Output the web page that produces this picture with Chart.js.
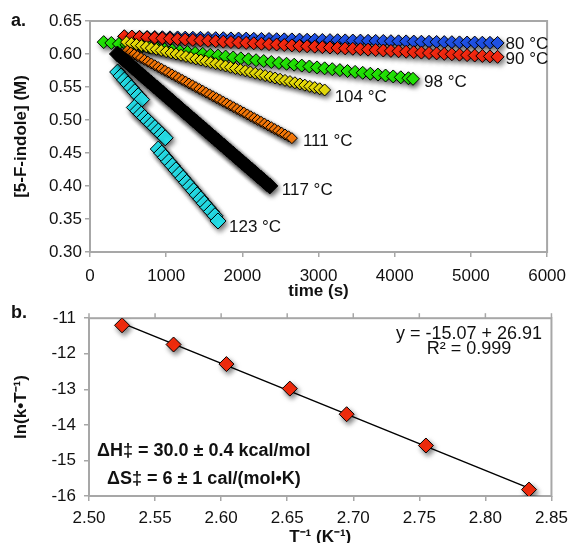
<!DOCTYPE html>
<html><head><meta charset="utf-8">
<script src="https://cdn.jsdelivr.net/npm/chart.js@4.4.1/dist/chart.umd.min.js"></script>
<style>
html,body{margin:0;padding:0;background:#fff;}
#wrap{position:relative;width:575px;height:543px;overflow:hidden;background:#fff;}
#ca{position:absolute;left:0;top:0;}
#cb{position:absolute;left:0;top:300px;}
</style></head><body>
<div id="wrap"><canvas id="ca" width="575" height="300"></canvas><canvas id="cb" width="575" height="243"></canvas></div>
<script>
// ---------- Panel a: [5-F-indole] vs time ----------
const seriesNames = ['80 °C','90 °C','98 °C','104 °C','111 °C','117 °C','123 °C'];

const t80 = [450,550,650,750,850,950,1050,1150,1250,1350,1450,1550,1650,1750,1850,1950,2050,2150,2250,2350,2450,2550,2650,2750,2850,2950,3050,3150,3250,3350,3450,3550,3650,3750,3850,3950,4050,4150,4250,4350,4450,4550,4650,4750,4850,4950,5050,5150,5250,5350];
const c80 = [0.6265,0.6262,0.6261,0.6258,0.6257,0.6254,0.6252,0.6251,0.6248,0.6246,0.6245,0.6242,0.6240,0.6239,0.6236,0.6234,0.6233,0.6230,0.6228,0.6227,0.6224,0.6222,0.6221,0.6218,0.6216,0.6215,0.6212,0.6210,0.6209,0.6206,0.6204,0.6203,0.6200,0.6198,0.6197,0.6194,0.6192,0.6191,0.6188,0.6186,0.6185,0.6182,0.6180,0.6179,0.6176,0.6174,0.6173,0.6171,0.6169,0.6168];

const t90 = [450,550,650,750,850,950,1050,1150,1250,1350,1450,1550,1650,1750,1850,1950,2050,2150,2250,2350,2450,2550,2650,2750,2850,2950,3050,3150,3250,3350,3450,3550,3650,3750,3850,3950,4050,4150,4250,4350,4450,4550,4650,4750,4850,4950,5050,5150,5250,5350];
const c90 = [0.6270,0.6264,0.6257,0.6251,0.6245,0.6238,0.6232,0.6225,0.6219,0.6213,0.6206,0.6200,0.6194,0.6187,0.6181,0.6174,0.6168,0.6162,0.6155,0.6149,0.6143,0.6136,0.6130,0.6123,0.6117,0.6111,0.6104,0.6098,0.6092,0.6085,0.6079,0.6072,0.6066,0.6060,0.6053,0.6047,0.6041,0.6034,0.6028,0.6021,0.6015,0.6009,0.6002,0.5996,0.5990,0.5983,0.5977,0.5970,0.5964,0.5957];

const t98 = [180,280,380,480,580,680,780,880,980,1080,1180,1280,1380,1480,1580,1680,1780,1880,1980,2080,2180,2280,2380,2480,2580,2680,2780,2880,2980,3080,3180,3280,3380,3480,3580,3680,3780,3880,3980,4080,4180,4240];
const c98 = [0.6180,0.6167,0.6152,0.6139,0.6125,0.6111,0.6098,0.6084,0.6070,0.6057,0.6043,0.6029,0.6016,0.6002,0.5988,0.5975,0.5961,0.5947,0.5934,0.5920,0.5906,0.5893,0.5879,0.5865,0.5852,0.5838,0.5824,0.5811,0.5797,0.5783,0.5770,0.5756,0.5742,0.5729,0.5715,0.5701,0.5688,0.5674,0.5660,0.5647,0.5633,0.5624];

const t104 = [480,545,610,675,740,805,870,935,1000,1065,1130,1195,1260,1325,1390,1455,1520,1585,1650,1715,1780,1845,1910,1975,2040,2105,2170,2235,2300,2365,2430,2495,2560,2625,2690,2755,2820,2885,2950,3015,3080];
const c104 = [0.6180,0.6162,0.6144,0.6126,0.6108,0.6089,0.6071,0.6053,0.6035,0.6017,0.5999,0.5981,0.5963,0.5944,0.5926,0.5908,0.5890,0.5872,0.5854,0.5836,0.5818,0.5799,0.5781,0.5763,0.5745,0.5727,0.5709,0.5691,0.5673,0.5654,0.5636,0.5618,0.5600,0.5582,0.5564,0.5546,0.5528,0.5509,0.5491,0.5473,0.5455];

const t111 = [490,535,580,625,670,715,760,805,850,895,940,985,1030,1075,1120,1165,1210,1255,1300,1345,1390,1435,1480,1525,1570,1615,1660,1705,1750,1795,1840,1885,1930,1975,2020,2065,2110,2155,2200,2245,2290,2335,2380,2425,2470,2515,2560,2605,2650];
const c111 = [0.6050,0.6022,0.5995,0.5967,0.5940,0.5912,0.5884,0.5857,0.5829,0.5802,0.5774,0.5746,0.5719,0.5691,0.5664,0.5636,0.5608,0.5581,0.5553,0.5526,0.5498,0.5470,0.5443,0.5415,0.5388,0.5360,0.5332,0.5305,0.5277,0.5250,0.5222,0.5194,0.5167,0.5139,0.5112,0.5084,0.5056,0.5029,0.5001,0.4974,0.4946,0.4918,0.4891,0.4863,0.4836,0.4808,0.4780,0.4753,0.4725];

const t117 = [360,400,440,480,520,560,600,640,680,720,760,800,840,880,920,960,1000,1040,1080,1120,1160,1200,1240,1280,1320,1360,1400,1440,1480,1520,1560,1600,1640,1680,1720,1760,1800,1840,1880,1920,1960,2000,2040,2080,2120,2160,2200,2240,2280,2320,2360];
const c117 = [0.6000,0.5961,0.5919,0.5881,0.5840,0.5799,0.5761,0.5720,0.5679,0.5641,0.5600,0.5561,0.5519,0.5480,0.5441,0.5400,0.5359,0.5321,0.5280,0.5239,0.5201,0.5160,0.5119,0.5081,0.5040,0.4999,0.4961,0.4920,0.4879,0.4841,0.4800,0.4759,0.4721,0.4680,0.4639,0.4601,0.4560,0.4519,0.4481,0.4440,0.4399,0.4361,0.4320,0.4279,0.4241,0.4200,0.4159,0.4121,0.4080,0.4039,0.4001];

const t123 = [363,408,453,498,543,588,633,678, 582,627,672,717,762,807,852,897,942,987, 896,942,989,1035,1082,1128,1175,1221,1268,1314,1361,1407,1454,1500,1547,1593,1640,1680];
const c123 = [0.5727,0.5667,0.5607,0.5547,0.5487,0.5427,0.5367,0.5310, 0.5190,0.5139,0.5088,0.5037,0.4986,0.4935,0.4884,0.4833,0.4782,0.4730, 0.4560,0.4497,0.4434,0.4370,0.4307,0.4244,0.4181,0.4118,0.4055,0.3991,0.3928,0.3865,0.3802,0.3739,0.3675,0.3612,0.3549,0.3470];

const timeTicks = [0,1000,2000,3000,4000,5000,6000];
const concTicks = [0.30,0.35,0.40,0.45,0.50,0.55,0.60,0.65];

// ---------- Panel b: Eyring plot ----------
const invT = [2.525,2.564,2.604,2.652,2.695,2.755,2.833];
const lnkT = [-11.20,-11.74,-12.29,-12.98,-13.70,-14.58,-15.82];
const fitX = [2.525,2.833];
const fitY = [-11.14,-15.78];
const invTTicks = [2.50,2.55,2.60,2.65,2.70,2.75,2.80,2.85];
const lnTicks = [-16,-15,-14,-13,-12,-11];

// ---------- styles ----------
const FONT = "'Liberation Sans', Arial, Helvetica, sans-serif";
const AXIS_GRAY = '#a7a7a7';
const TXT = '#111';
const seriesColors = ['#2256f2','#ff2b12','#24ee06','#f2e60a','#ff7d0a','#000000','#27e4ee'];
const seriesRadius = [6.5,6.5,6.5,6,5.5,8,8];
const seriesOrder  = [6,5,4,3,2,0,1];
const labelOffset = [[8,1],[8,2],[11,3],[10,7],[11,3],[12,4],[11,6]];

Chart.defaults.font.family = FONT;
Chart.defaults.color = TXT;

const tA = [t80,t90,t98,t104,t111,t117,t123];
const cA = [c80,c90,c98,c104,c111,c117,c123];

function pts(xs, ys){ return xs.map((x,i)=>({x:x, y:ys[i]})); }

function boxAndShadow(id, topTicks, shadowSet){
  return {
    id: id,
    beforeDatasetsDraw(chart){
      const {ctx, chartArea:a} = chart;
      ctx.save();
      ctx.strokeStyle = AXIS_GRAY; ctx.lineWidth = 2;
      ctx.strokeRect(a.left, a.top, a.right-a.left, a.bottom-a.top);
      if (topTicks){
        ctx.lineWidth = 1.5;
        chart.scales.x.ticks.forEach(t=>{
          const px = chart.scales.x.getPixelForValue(t.value);
          ctx.beginPath(); ctx.moveTo(px, a.top); ctx.lineTo(px, a.top-5); ctx.stroke();
        });
      }
      ctx.restore();
    },
    beforeDatasetDraw(chart, args){
      const ctx = chart.ctx;
      ctx.save();
      if (shadowSet(args.index)){
        ctx.shadowColor = 'rgba(0,0,0,0.5)';
        ctx.shadowBlur = 5;
        ctx.shadowOffsetX = 2;
        ctx.shadowOffsetY = 3;
      }
    },
    afterDatasetDraw(chart){ chart.ctx.restore(); }
  };
}

const labelsA = {
  id: 'labelsA',
  afterDatasetsDraw(chart){
    const ctx = chart.ctx;
    ctx.save();
    ctx.fillStyle = TXT;
    ctx.textAlign = 'left'; ctx.textBaseline = 'middle';
    ctx.font = "17px " + FONT;
    seriesNames.forEach((n,i)=>{
      const meta = chart.getDatasetMeta(i);
      const last = meta.data[meta.data.length-1];
      ctx.fillText(n, last.x + labelOffset[i][0], last.y + labelOffset[i][1]);
    });
    ctx.font = "bold 18px " + FONT;
    ctx.fillText('a.', 11, 21);
    ctx.restore();
  }
};

const datasetsA = seriesNames.map((n,i)=>({
  label: n,
  data: pts(tA[i], cA[i]),
  showLine: false,
  pointStyle: 'rectRot',
  pointRadius: seriesRadius[i],
  pointBackgroundColor: seriesColors[i],
  pointBorderColor: '#000',
  pointBorderWidth: 1,
  order: seriesOrder[i]
}));

function gridOpts(){ return {display:true, drawOnChartArea:false, drawTicks:true, tickLength:5, color:AXIS_GRAY, lineWidth:1.5}; }

new Chart(document.getElementById('ca'), {
  type: 'scatter',
  data: { datasets: datasetsA },
  options: {
    responsive:false, maintainAspectRatio:false, animation:false, events:[],
    layout:{padding:{left:0, right:22, top:21, bottom:0}},
    plugins:{legend:{display:false}, tooltip:{enabled:false}},
    scales:{
      x:{ type:'linear', min:0, max:6000,
        afterBuildTicks:s=>{ s.ticks = timeTicks.map(v=>({value:v})); },
        afterFit:s=>{ s.height = 48; },
        ticks:{ callback:v=>String(v), padding:9, color:TXT, font:{size:17}, maxRotation:0 },
        grid: gridOpts(), border:{display:false},
        title:{display:true, text:'time (s)', color:TXT, font:{size:17, weight:'bold', lineHeight:1}, padding:{top:0,bottom:0}}
      },
      y:{ type:'linear', min:0.30, max:0.65,
        afterBuildTicks:s=>{ s.ticks = concTicks.map(v=>({value:v})); },
        afterFit:s=>{ s.width = 90; },
        ticks:{ callback:v=>Number(v).toFixed(2), padding:3, color:TXT, font:{size:17} },
        grid: gridOpts(), border:{display:false},
        title:{display:true, text:'[5-F-indole] (M)', color:TXT, font:{size:17, weight:'bold', lineHeight:1}, padding:{top:13,bottom:0}}
      }
    }
  },
  plugins:[boxAndShadow('boxA', false, ()=>true), labelsA]
});

const textsB = {
  id:'textsB',
  afterDatasetsDraw(chart){
    const ctx = chart.ctx;
    ctx.save();
    ctx.fillStyle = TXT; ctx.textBaseline = 'middle';
    ctx.font = "bold 18px " + FONT; ctx.textAlign = 'left';
    ctx.fillText('b.', 11, 13);
    ctx.fillText('\u0394H\u2021 = 30.0 \u00b1 0.4 kcal/mol', 97, 151);
    ctx.fillText('\u0394S\u2021 = 6 \u00b1 1 cal/(mol\u2022K)', 107, 179);
    ctx.font = "18px " + FONT; ctx.textAlign = 'center';
    ctx.fillText('y = -15.07 + 26.91', 469, 34);
    ctx.fillText('R\u00b2 = 0.999', 469, 49);
    ctx.restore();
  }
};

new Chart(document.getElementById('cb'), {
  type: 'scatter',
  data: { datasets: [
    { label:'Eyring', data: pts(invT, lnkT), showLine:false, pointStyle:'rectRot', pointRadius:7.5,
      pointBackgroundColor:'#fa2d0d', pointBorderColor:'#000', pointBorderWidth:1, order:0 },
    { label:'fit', data: pts(fitX, fitY), showLine:true, pointRadius:0, borderColor:'#000', borderWidth:1.5, order:1 }
  ]},
  options: {
    responsive:false, maintainAspectRatio:false, animation:false, events:[],
    layout:{padding:{left:0, right:20, top:13, bottom:0}},
    plugins:{legend:{display:false}, tooltip:{enabled:false}},
    scales:{
      x:{ type:'linear', min:2.50, max:2.85,
        afterBuildTicks:s=>{ s.ticks = invTTicks.map(v=>({value:v})); },
        afterFit:s=>{ s.height = 47; },
        ticks:{ callback:v=>Number(v).toFixed(2), padding:7, color:TXT, font:{size:17}, maxRotation:0 },
        grid: gridOpts(), border:{display:false},
        title:{display:true, text:'T\u207b\u00b9 (K\u207b\u00b9)', color:TXT, font:{size:17, weight:'bold', lineHeight:1}, padding:{top:0,bottom:-3}}
      },
      y:{ type:'linear', min:-16, max:-11,
        afterBuildTicks:s=>{ s.ticks = lnTicks.map(v=>({value:v})); },
        afterFit:s=>{ s.width = 89; },
        ticks:{ callback:v=>String(v), padding:8, color:TXT, font:{size:17} },
        grid: gridOpts(), border:{display:false},
        title:{display:true, text:'ln(k\u2022T\u207b\u00b9)', color:TXT, font:{size:17, weight:'bold', lineHeight:1}, padding:{top:13,bottom:0}}
      }
    }
  },
  plugins:[boxAndShadow('boxB', true, i=>i===0), textsB]
});
</script>
</body></html>
